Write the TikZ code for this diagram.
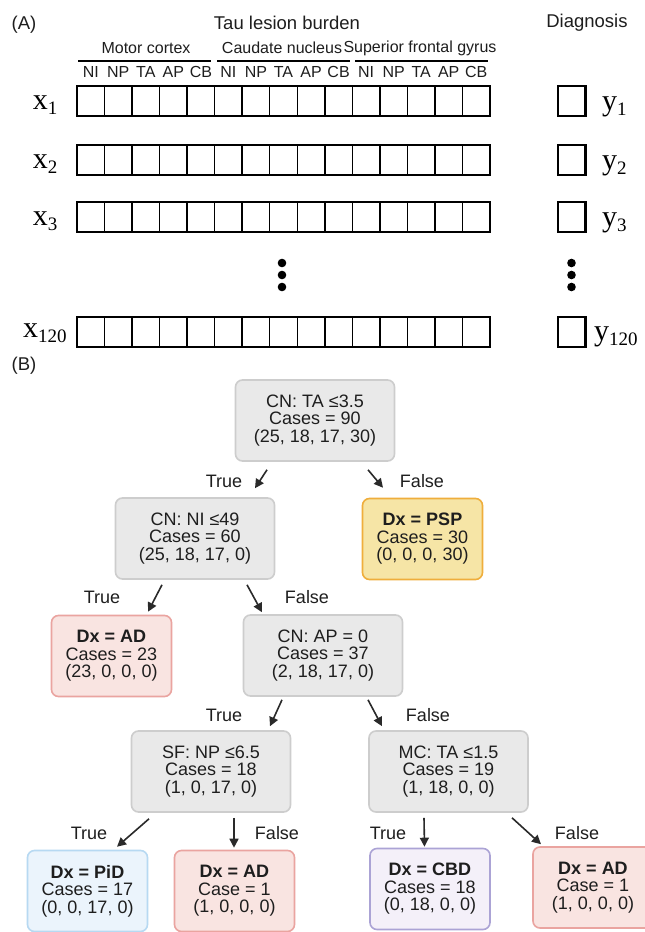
\documentclass[tikz,border=0pt]{standalone}
\usepackage{fontspec}
\setmainfont{Liberation Sans}
\newfontfamily\serifx{Liberation Serif}
\usetikzlibrary{arrows.meta}
\definecolor{txt}{HTML}{1E1E1E}
\definecolor{gfill}{HTML}{E9E9E9}
\definecolor{gline}{HTML}{CDCDCD}
\definecolor{pspfill}{HTML}{F6E5A6}
\definecolor{pspline}{HTML}{EFAE3C}
\definecolor{adfill}{HTML}{F9E4E1}
\definecolor{adline}{HTML}{EAA4A0}
\definecolor{pidfill}{HTML}{EBF4FC}
\definecolor{pidline}{HTML}{B7D9F2}
\definecolor{cbdfill}{HTML}{F4F0F9}
\definecolor{cbdline}{HTML}{ABA3D5}
\definecolor{arrc}{HTML}{2A2A2A}
\newcommand\treefont{\fontsize{18}{17.5}\selectfont}
\newcommand\mylab[2]{{\serifx\fontsize{30}{30}\selectfont #1\raisebox{-5pt}{\fontsize{19}{19}\selectfont #2}}}
\tikzset{
  box/.style={rounded corners=7pt, line width=1.6pt, align=center, text=txt, font=\treefont, minimum height=81pt, inner sep=0pt},
  inner/.style={box, fill=gfill, draw=gline, minimum width=159pt},
  leaf/.style={box, minimum width=120pt},
  pspbox/.style={leaf, fill=pspfill, draw=pspline},
  adbox/.style={leaf, fill=adfill, draw=adline},
  pidbox/.style={leaf, fill=pidfill, draw=pidline},
  cbdbox/.style={leaf, fill=cbdfill, draw=cbdline},
  arr/.style={-{Triangle[length=9pt,width=9pt]}, line width=1.6pt, draw=arrc},
  lab/.style={font=\fontsize{18}{18}\selectfont, text=txt, inner sep=0pt},
  title/.style={font=\fontsize{18.5}{18.5}\selectfont, text=txt, inner sep=0pt},
  grp/.style={font=\fontsize{16}{16}\selectfont, text=txt, inner sep=0pt},
  col/.style={font=\fontsize{16}{16}\selectfont, text=txt, inner sep=0pt},
  cell/.style={draw=black, line width=1.5pt},
  outer/.style={draw=black, line width=2.2pt},
  xl/.style={inner sep=0pt, anchor=base, text=black},
  yl/.style={inner sep=0pt, anchor=base west, text=black},
}
\begin{document}
\begin{tikzpicture}[x=1pt,y=-1pt]
\useasboundingbox[fill=white] (0,0) rectangle (645,932);

% ---------- Part A ----------
\node[title] (A) at (24,25) {(A)};
\node[title] (tau) at (287,23) {Tau lesion burden};
\node[title] (diag) at (587,23) {Diagnosis};
\node[grp] (mc0) at (146,48) {Motor cortex};
\node[grp] (cn0) at (282,48) {Caudate nucleus};
\node[grp] (sf0) at (420,48) {Superior frontal gyrus};
\draw[line width=2pt] (78,61) -- (211,61);
\draw[line width=2pt] (217,61) -- (350,61);
\draw[line width=2pt] (355,61) -- (488,61);
\foreach \g in {0,1,2}{
  \foreach \l [count=\i from 0] in {NI,NP,TA,AP,CB}{
    \node[col] (c\g\i) at ({77+(\g*5+\i+0.5)*27.533},72) {\l};
  }
}
\foreach \yt in {86,145,202,317}{
  \foreach \c in {0,...,14}{
    \draw[cell] ({77+\c*27.533},\yt) rectangle ++(27.533,30);
  }
  \draw[outer] (77,\yt) rectangle (490,{\yt+30});
  \draw[outer] (558,\yt) rectangle (585.5,{\yt+30});
}
\node[xl] (x1) at (45,109) {\mylab{x}{1}};
\node[xl] (x2) at (45,168) {\mylab{x}{2}};
\node[xl] (x3) at (45,225) {\mylab{x}{3}};
\node[xl] (x120) at (45,337) {\mylab{x}{120}};
\node[yl] (y1) at (602,110) {\mylab{y}{1}};
\node[yl] (y2) at (602,169) {\mylab{y}{2}};
\node[yl] (y3) at (602,226) {\mylab{y}{3}};
\node[yl] (y120) at (594,340) {\mylab{y}{120}};
\foreach \yy in {263,275,287}{
  \fill (282,\yy) circle (4.3);
  \fill (571.5,\yy) circle (4.3);
}

% ---------- Part B ----------
\node[title] (B) at (24,366) {(B)};
\node[inner] (root) at (315,420.5) {CN: TA ≤3.5\\Cases = 90\\(25, 18, 17, 30)};
\node[inner] (ni) at (195,538.5) {CN: NI ≤49\\Cases = 60\\(25, 18, 17, 0)};
\node[pspbox] (psp) at (422.5,539) {\textbf{Dx = PSP}\\Cases = 30\\(0, 0, 0, 30)};
\node[adbox] (ad1) at (111.5,656) {\textbf{Dx = AD}\\Cases = 23\\(23, 0, 0, 0)};
\node[inner] (ap) at (323,655.5) {CN: AP = 0\\Cases = 37\\(2, 18, 17, 0)};
\node[inner] (sf) at (211,771.5) {SF: NP ≤6.5\\Cases = 18\\(1, 0, 17, 0)};
\node[inner] (mc) at (448.5,771.5) {MC: TA ≤1.5\\Cases = 19\\(1, 18, 0, 0)};
\node[pidbox] (pid) at (87.5,891) {\textbf{Dx = PiD}\\Cases = 17\\(0, 0, 17, 0)};
\node[adbox] (ad2) at (234.5,891) {\textbf{Dx = AD}\\Case = 1\\(1, 0, 0, 0)};
\node[cbdbox] (cbd) at (430,889) {\textbf{Dx = CBD}\\Cases = 18\\(0, 18, 0, 0)};
\node[adbox] (ad3) at (593,887.5) {\textbf{Dx = AD}\\Case = 1\\(1, 0, 0, 0)};

\draw[arr] ([xshift=-48pt,yshift=-8pt]root.south) -- ([xshift=60pt,yshift=9pt]ni.north);
\draw[arr] ([xshift=53pt,yshift=-8pt]root.south) -- ([xshift=-39.5pt,yshift=10pt]psp.north);
\draw[arr] ([xshift=-33pt,yshift=-5pt]ni.south) -- ([xshift=36.5pt,yshift=3pt]ad1.north);
\draw[arr] ([xshift=52pt,yshift=-5pt]ni.south) -- ([xshift=-61pt,yshift=2pt]ap.north);
\draw[arr] ([xshift=-41pt,yshift=-3pt]ap.south) -- ([xshift=59pt,yshift=4pt]sf.north);
\draw[arr] ([xshift=45pt,yshift=-3pt]ap.south) -- ([xshift=-66.5pt,yshift=4pt]mc.north);
\draw[arr] ([xshift=-62pt,yshift=-6pt]sf.south) -- ([xshift=29.5pt,yshift=3pt]pid.north);
\draw[arr] ([xshift=23pt,yshift=-5pt]sf.south) -- ([xshift=-0.5pt,yshift=2pt]ad2.north);
\draw[arr] ([xshift=-24.5pt,yshift=-5pt]mc.south) -- ([xshift=-5.5pt,yshift=1pt]cbd.north);
\draw[arr] ([xshift=63.5pt,yshift=-5pt]mc.south) -- ([xshift=-52pt,yshift=2pt]ad3.north);

\node[lab] (t1) at (224,481) {True};
\node[lab] (f1) at (422,481) {False};
\node[lab] (t2) at (102,597) {True};
\node[lab] (f2) at (307,597) {False};
\node[lab] (t3) at (224,715) {True};
\node[lab] (f3) at (428,715) {False};
\node[lab] (t4) at (89,833) {True};
\node[lab] (f4) at (277,833) {False};
\node[lab] (t5) at (388,833) {True};
\node[lab] (f5) at (577,833) {False};
\end{tikzpicture}
\end{document}
